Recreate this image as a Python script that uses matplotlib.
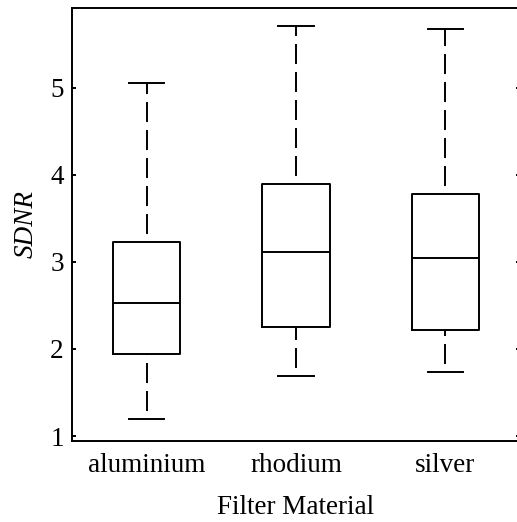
import matplotlib
matplotlib.use("Agg")
import matplotlib.pyplot as plt

# SDNR par matériau de filtre
materiaux = ["aluminium", "rhodium", "silver"]
moustache_basse = [1.19, 1.69, 1.74]
q1 = [1.94, 2.25, 2.22]
mediane = [2.53, 3.11, 3.05]
q3 = [3.23, 3.89, 3.78]
moustache_haute = [5.05, 5.71, 5.68]

plt.rcParams["font.family"] = ["Liberation Serif", "DejaVu Serif"]

fig = plt.figure(figsize=(5.17, 5.22), dpi=100)
ax = fig.add_axes([72 / 517, 81 / 522, 448 / 517, 433 / 522])

stats = []
for i in range(len(materiaux)):
    stats.append({
        "label": materiaux[i],
        "whislo": moustache_basse[i],
        "q1": q1[i],
        "med": mediane[i],
        "q3": q3[i],
        "whishi": moustache_haute[i],
        "fliers": [],
    })

lw = 1.4
tirets = (10.3, (10.3, 4.1))  # on commence par un blanc
res = ax.bxp(stats, positions=[1, 2, 3], widths=0.45, showfliers=False,
             boxprops=dict(color="black", linewidth=lw),
             medianprops=dict(color="black", linewidth=lw),
             whiskerprops=dict(color="black", linewidth=lw, linestyle=tirets),
             capprops=dict(color="black", linewidth=lw),
             capwidths=0.235)

# moustaches du bas tracées vers le haut (depuis le chapeau)
for i in range(len(materiaux)):
    res["whiskers"][2 * i].set_ydata([moustache_basse[i], q1[i]])

ax.set_xlim(0.5, 3.5)
ax.set_ylim(0.943, 5.916)
ax.set_yticks([1, 2, 3, 4, 5])

for sp in ax.spines.values():
    sp.set_linewidth(lw)

ax.tick_params(axis="y", direction="in", length=3, width=lw, right=True,
               labelsize=19.5, pad=6)
ax.tick_params(axis="x", length=0, labelsize=19.5, pad=9)

ax.set_xlabel("Filter Material", fontsize=19.5, labelpad=12)
ax.set_ylabel("SDNR", fontsize=19.5, style="italic", labelpad=8)

fig.savefig("out.png", dpi=100)
